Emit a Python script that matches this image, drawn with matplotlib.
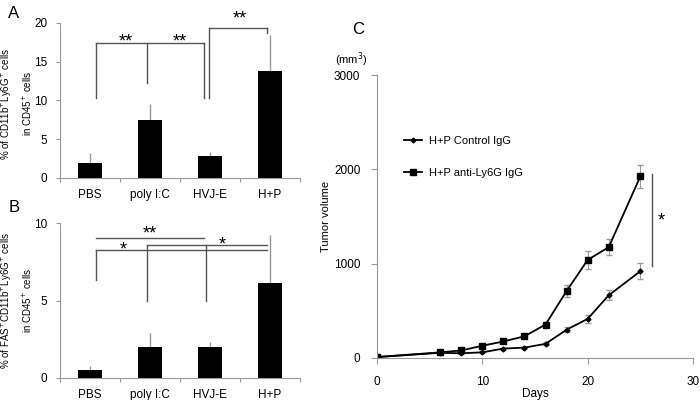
import matplotlib
matplotlib.use("Agg")
import matplotlib.pyplot as plt

# ---- data ----
groups = ["PBS", "poly I:C", "HVJ-E", "H+P"]

a_means = [1.9, 7.5, 2.9, 13.8]
a_err = [1.3, 2.0, 0.4, 4.7]

b_means = [0.5, 2.0, 2.0, 6.1]
b_err = [0.25, 0.9, 0.3, 3.1]

days = [0, 6, 8, 10, 12, 14, 16, 18, 20, 22, 25]
ctrl_vol = [10, 55, 50, 60, 100, 110, 150, 300, 415, 665, 920]
ctrl_err = [0, 5, 5, 8, 10, 10, 15, 25, 40, 55, 85]
ly6g_vol = [10, 60, 80, 130, 175, 230, 355, 710, 1040, 1175, 1925]
ly6g_err = [0, 8, 10, 15, 15, 20, 30, 65, 95, 85, 125]

plt.rcParams["font.family"] = ["Liberation Sans", "DejaVu Sans"]
plt.rcParams["font.size"] = 8.5

fig = plt.figure(figsize=(7, 4), dpi=100)
grey = "#999999"
line_c = "#555555"


def bar_panel(ax, means, err, ymax, step):
    x = range(len(groups))
    ax.bar(x, means, width=0.4, color="black", zorder=2)
    ax.errorbar(x, means, yerr=[[0] * len(err), err], fmt="none",
                ecolor=grey, elinewidth=1, capsize=0, zorder=1)
    ax.set_xlim(-0.5, len(groups) - 0.5)
    ax.set_ylim(0, ymax)
    ax.set_yticks(range(0, ymax + 1, step))
    ax.set_xticks([i - 0.5 for i in range(len(groups) + 1)], minor=False)
    ax.set_xticklabels([])
    ax.set_xticks(list(x), minor=True)
    ax.set_xticklabels(groups, minor=True)
    ax.tick_params(axis="x", which="minor", length=0, pad=8)
    ax.tick_params(axis="x", which="major", length=3, color=grey)
    ax.tick_params(axis="y", length=3, color=grey, pad=6)
    for s in ["top", "right"]:
        ax.spines[s].set_visible(False)
    for s in ["left", "bottom"]:
        ax.spines[s].set_color(grey)


def hline(ax, x0, x1, y):
    ax.plot([x0, x1], [y, y], color=line_c, lw=1, clip_on=False)


def vline(ax, x, y0, y1):
    ax.plot([x, x], [y0, y1], color=line_c, lw=1, clip_on=False)


# Panel A
axA = fig.add_axes([0.0857, 0.555, 0.343, 0.3875])
bar_panel(axA, a_means, a_err, 20, 5)
axA.set_ylabel("% of CD11b$^{+}$Ly6G$^{+}$ cells\nin CD45$^{+}$ cells",
               fontsize=7, linespacing=1.6)
axA.yaxis.set_label_coords(-0.11, 0.48)
hline(axA, 0.1, 1.9, 17.4)
vline(axA, 0.1, 10.3, 17.4)
vline(axA, 0.95, 12.3, 17.4)
vline(axA, 1.9, 10.3, 17.4)
axA.text(0.6, 17.0, "**", ha="center", fontsize=13)
axA.text(1.5, 17.0, "**", ha="center", fontsize=13)
hline(axA, 1.98, 2.95, 19.4)
vline(axA, 1.98, 10.3, 19.4)
vline(axA, 2.95, 18.7, 19.4)
axA.text(2.5, 20.0, "**", ha="center", fontsize=13)

# Panel B
axB = fig.add_axes([0.0857, 0.055, 0.343, 0.3875])
bar_panel(axB, b_means, b_err, 10, 5)
axB.set_ylabel("% of FAS$^{+}$CD11b$^{+}$Ly6G$^{+}$ cells\nin CD45$^{+}$ cells",
               fontsize=7, linespacing=1.6)
axB.yaxis.set_label_coords(-0.11, 0.5)
hline(axB, 0.1, 1.9, 9.04)
axB.text(1.0, 9.0, "**", ha="center", fontsize=13)
hline(axB, 0.1, 2.95, 8.24)
vline(axB, 0.1, 6.3, 8.24)
axB.text(0.55, 7.95, "*", ha="center", fontsize=13)
hline(axB, 0.95, 2.95, 8.56)
vline(axB, 0.95, 5.0, 8.56)
vline(axB, 1.93, 5.0, 8.56)
axB.text(2.2, 8.3, "*", ha="center", fontsize=13)

# Panel C
axC = fig.add_axes([0.5386, 0.105, 0.4514, 0.7075])
axC.errorbar(days, ctrl_vol, yerr=ctrl_err, fmt="none", ecolor=grey,
             elinewidth=0.8, capsize=2)
axC.errorbar(days, ly6g_vol, yerr=ly6g_err, fmt="none", ecolor=grey,
             elinewidth=0.8, capsize=2)
axC.plot(days, ctrl_vol, color="black", lw=1.3, marker="D", markersize=2.5,
         label="H+P Control IgG")
axC.plot(days, ly6g_vol, color="black", lw=1.3, marker="s", markersize=4.5,
         label="H+P anti-Ly6G IgG")
axC.set_xlim(0, 30)
axC.set_ylim(0, 3000)
axC.set_xticks([0, 10, 20, 30])
axC.set_yticks([0, 1000, 2000, 3000])
axC.tick_params(axis="x", length=4, color=grey, pad=9)
axC.tick_params(axis="y", length=4, color=grey, pad=8)
for s in ["top", "right"]:
    axC.spines[s].set_visible(False)
for s in ["left", "bottom"]:
    axC.spines[s].set_color(grey)
axC.set_xlabel("Days", labelpad=0)
axC.set_ylabel("Tumor volume", labelpad=2, fontsize=8)
axC.text(-0.08, 1.04, "(mm$^{3}$)", transform=axC.transAxes, ha="center",
         fontsize=8)
axC.plot([26.1, 26.1], [980, 1950], color=line_c, lw=1)
axC.text(27.0, 1400, "*", ha="center", fontsize=13)
axC.legend(loc="upper left", bbox_to_anchor=(0.055, 0.82), frameon=False,
           handlelength=1.6, handletextpad=0.6, labelspacing=2.0, fontsize=8)

fig.text(0.012, 0.955, "A", fontsize=12)
fig.text(0.012, 0.47, "B", fontsize=12)
fig.text(0.503, 0.915, "C", fontsize=12)

fig.savefig("out.png", dpi=100)
